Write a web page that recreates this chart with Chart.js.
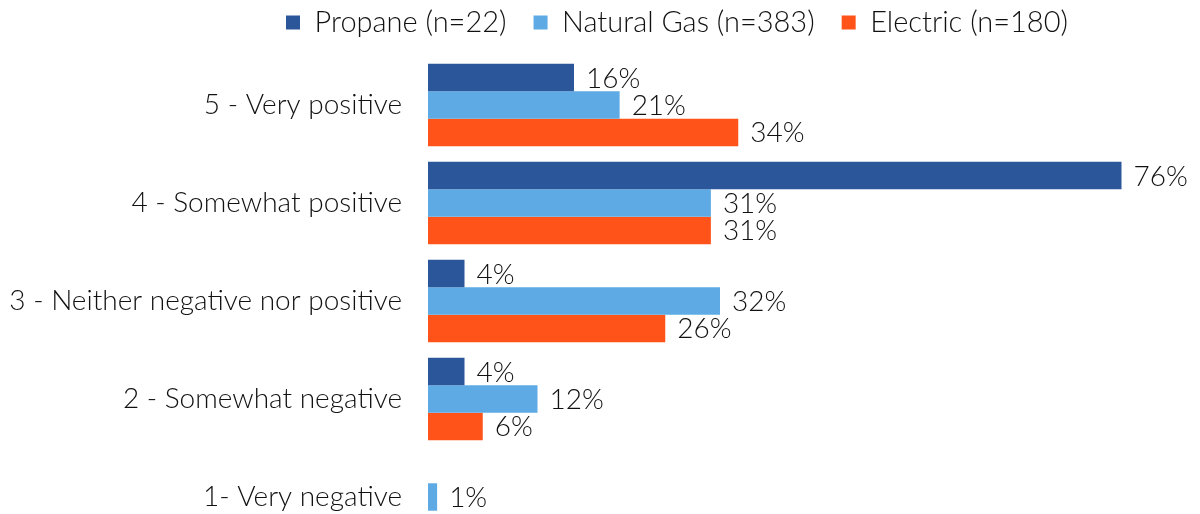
<!DOCTYPE html>
<html lang="en">
<head>
    <meta charset="UTF-8">
    <title>Rating by Fuel Type</title>
    <script src="https://cdn.jsdelivr.net/npm/chart.js"></script>
    <style>
        body { margin: 0; overflow: hidden; background: #fff; }
    </style>
</head>
<body>
    <canvas id="ratingChart" width="1200" height="546"></canvas>
    <script>
        const categories = [
            "5 - Very positive",
            "4 - Somewhat positive",
            "3 - Neither negative nor positive",
            "2 - Somewhat negative",
            "1- Very negative"
        ];
        const seriesNames = ["Propane (n=22)", "Natural Gas (n=383)", "Electric (n=180)"];
        const propane = [16, 76, 4, 4, 0];
        const naturalGas = [21, 31, 32, 12, 1];
        const electric = [34, 31, 26, 6, 0];
        const colors = ["#2B579A", "#5DAAE5", "#FF5319"];

        const FONT = "Lato, 'Noto Sans', sans-serif";
        const SIZE = 28;

        // draws the % value at the end of each bar
        const valueLabels = {
            id: "valueLabels",
            afterDatasetsDraw(chart) {
                const ctx = chart.ctx;
                ctx.save();
                ctx.font = "300 " + SIZE + "px " + FONT;
                ctx.fillStyle = "#111";
                ctx.textAlign = "left";
                ctx.textBaseline = "middle";
                chart.data.datasets.forEach((ds, i) => {
                    const meta = chart.getDatasetMeta(i);
                    meta.data.forEach((bar, j) => {
                        const v = ds.data[j];
                        if (!v) return;
                        ctx.fillText(v + "%", bar.x + 12, bar.y + 1);
                    });
                });
                ctx.restore();
            }
        };

        // legend sits a bit right of centre and takes a fixed height
        const legendPlace = {
            id: "legendPlace",
            beforeInit(chart) {
                const fit = chart.legend.fit;
                chart.legend.fit = function () {
                    fit.call(this);
                    this.height = 56;
                };
            },
            afterLayout(chart) {
                const lg = chart.legend;
                lg.left += 98;
                lg.right += 98;
                lg.top -= 19;
            }
        };

        const ctx = document.getElementById("ratingChart").getContext("2d");
        new Chart(ctx, {
            type: "bar",
            data: {
                labels: categories,
                datasets: [propane, naturalGas, electric].map((d, i) => ({
                    label: seriesNames[i],
                    data: d,
                    backgroundColor: colors[i],
                    categoryPercentage: 0.84,
                    barPercentage: 1.0
                }))
            },
            options: {
                indexAxis: "y",
                responsive: false,
                animation: false,
                layout: { padding: { top: 0, right: 42, left: 0, bottom: 0 } },
                scales: {
                    x: { display: false, min: 0, max: 80 },
                    y: {
                        grid: { display: false },
                        border: { display: false },
                        ticks: {
                            color: "#111",
                            font: { size: SIZE, family: FONT, weight: "300" },
                            padding: 18
                        },
                        afterFit(scale) {
                            scale.width = 428;
                            scale.paddingTop = 0;
                            scale.paddingBottom = 0;
                        }
                    }
                },
                plugins: {
                    legend: {
                        position: "top",
                        labels: {
                            color: "#111",
                            font: { size: 29, family: FONT, weight: "300" },
                            boxWidth: 14,
                            boxHeight: 14,
                            padding: 27
                        }
                    },
                    tooltip: { enabled: false }
                }
            },
            plugins: [valueLabels, legendPlace]
        });
    </script>
</body>
</html>
